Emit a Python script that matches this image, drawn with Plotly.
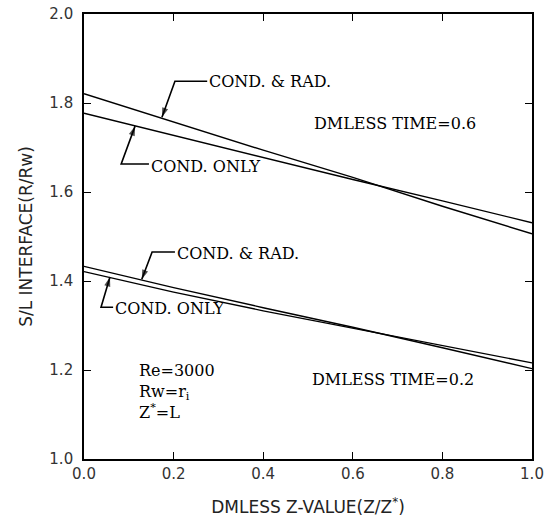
import plotly.graph_objects as go

# ---- data ----
z = [0.0, 0.2, 0.4, 0.6, 0.8, 1.0]
cond_rad_t06 = [1.821, 1.757, 1.694, 1.633, 1.568, 1.506]
cond_only_t06 = [1.777, 1.727, 1.678, 1.628, 1.580, 1.531]
cond_rad_t02 = [1.433, 1.385, 1.340, 1.296, 1.250, 1.203]
cond_only_t02 = [1.421, 1.375, 1.333, 1.294, 1.255, 1.216]

x_ticks = [0.0, 0.2, 0.4, 0.6, 0.8, 1.0]
y_ticks = [1.0, 1.2, 1.4, 1.6, 1.8, 2.0]

fig = go.Figure()
for ys in [cond_rad_t06, cond_only_t06, cond_rad_t02, cond_only_t02]:
    fig.add_trace(go.Scatter(x=z, y=ys, mode="lines",
                             line=dict(color="black", width=1.4),
                             showlegend=False, hoverinfo="skip"))

serif = dict(family="DejaVu Serif", size=16, color="black")

# leader lines: (text, text_x, text_y, elbow_x, elbow_y, tip_x, tip_y)
leaders = [
    ("COND. &amp; RAD.", 0.275, 1.848, 0.203, 1.849, 0.174, 1.768),
    ("COND. ONLY", 0.145, 1.658, 0.083, 1.663, 0.114, 1.748),
    ("COND. &amp; RAD.", 0.203, 1.462, 0.152, 1.465, 0.129, 1.404),
    ("COND. ONLY", 0.065, 1.338, 0.038, 1.341, 0.058, 1.409),
]
for txt, tx, ty, ex, ey, px, py in leaders:
    fig.add_trace(go.Scatter(
        x=[tx, ex, px], y=[ey, ey, py], mode="lines+markers",
        line=dict(color="black", width=1.6),
        marker=dict(symbol="arrow", size=[0, 0, 10], angleref="previous",
                    color="black", line=dict(width=0)),
        showlegend=False, hoverinfo="skip"))
    fig.add_annotation(x=tx, y=ty, xref="x", yref="y", text=txt,
                       showarrow=False, xanchor="left", yanchor="middle",
                       font=serif)

fig.add_annotation(x=0.694, y=1.755, xref="x", yref="y",
                   text="DMLESS TIME=0.6", showarrow=False, font=serif)
fig.add_annotation(x=0.689, y=1.178, xref="x", yref="y",
                   text="DMLESS TIME=0.2", showarrow=False, font=serif)
fig.add_annotation(x=0.118, y=1.152, xref="x", yref="y",
                   text="Re=3000<br>Rw=r<sub>i</sub><br>Z<sup>*</sup>=L",
                   showarrow=False, xanchor="left", yanchor="middle",
                   align="left", font=serif)

axis_common = dict(showline=True, linecolor="black", linewidth=1.6,
                   mirror="ticks", ticks="inside", ticklen=7, tickwidth=1.3,
                   tickcolor="black", showgrid=False, zeroline=False,
                   tickfont=dict(family="DejaVu Sans", size=15, color="#333"))

fig.update_xaxes(range=[0, 1], tickvals=x_ticks,
                 ticktext=[f"{v:.1f}" for v in x_ticks],
                 title=dict(text="DMLESS Z-VALUE(Z/Z<sup>*</sup>)",
                            font=dict(family="DejaVu Sans", size=17, color="#222"),
                            standoff=19),
                 **axis_common)
fig.update_yaxes(range=[1.0, 2.0], tickvals=y_ticks,
                 ticktext=[f"{v:.1f}" for v in y_ticks],
                 ticklabelstandoff=6,
                 title=dict(text="S/L INTERFACE(R/Rw)",
                            font=dict(family="DejaVu Sans", size=17, color="#222"),
                            standoff=12),
                 **axis_common)

fig.update_layout(width=559, height=526,
                  margin=dict(l=84, r=27, t=14, b=67, autoexpand=False),
                  plot_bgcolor="white", paper_bgcolor="white")

fig.write_html("out.html")
